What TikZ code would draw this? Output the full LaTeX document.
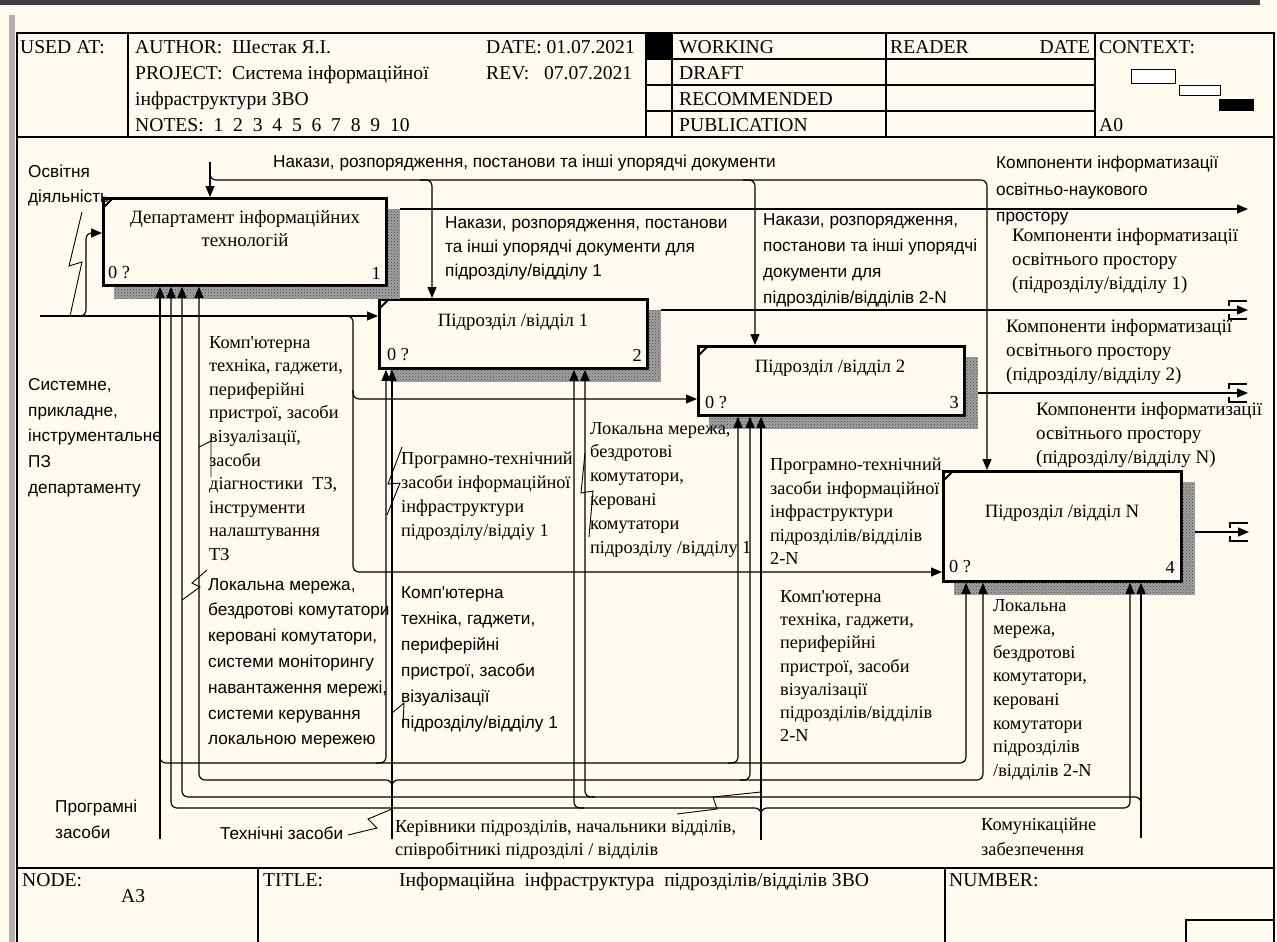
\documentclass[tikz,border=0pt]{standalone}
\usepackage{fontspec}
\setmainfont{Liberation Serif}
\newfontfamily\arialfont{Liberation Sans}
\usetikzlibrary{arrows.meta,patterns,calc}

\definecolor{paper}{HTML}{FFFAF0}
\definecolor{topbar}{HTML}{404040}

\newcommand\rmz[1]{\fontsize{18.3}{#1}\selectfont}
\newcommand\rmo[1]{\fontsize{19}{#1}\selectfont}
\newcommand\sfz[1]{\arialfont\fontsize{17.2}{#1}\selectfont}
\newcommand\hdz{\fontsize{19.6}{26}\selectfont}
\newcommand\ap{\textquotesingle}

\tikzset{
  conn/.style={line width=1.15pt, line join=round},
  arr/.style={conn, -{Triangle[length=11pt,width=9pt]}},
  zig/.style={line width=0.9pt},
  abox/.style={draw, line width=2.8pt, fill=paper, inner sep=0pt, anchor=north west},
  shade/.style={fill=black!36, postaction={pattern=crosshatch dots, pattern color=black!75}},
  lbl/.style={inner sep=0pt, align=left, anchor=north west},
  ttl/.style={inner sep=0pt, align=center, font=\fontsize{18.8}{23}\selectfont},
  num/.style={inner sep=0pt, font=\rmz{23}},
  hdr/.style={inner sep=0pt, anchor=base west, font=\hdz},
  frm/.style={line width=1.4pt},
  tunnel/.style={line width=1.1pt},
}
\newcommand\boxshade[1]{%
  \fill[shade] ($(#1.north east)+(0,12)$) -- ++(12,0) -- ($(#1.south east)+(12,12)$)
    -- ($(#1.south west)+(12,12)$) -- ($(#1.south west)+(12,0)$) -- (#1.south east) -- cycle;}

\begin{document}
\begin{tikzpicture}[x=1pt,y=-1pt]
\useasboundingbox (0,0) rectangle (1277,942);
\fill[paper] (0,0) rectangle (1277,942);
\fill[topbar] (0,0) rectangle (1260,5);
\fill[gray!60] (9,15) rectangle (15,942);

% ---------- frame ----------
\draw[frm] (17,942) -- (17,33) -- (1274,33) -- (1274,942);
\draw[frm] (17,137) -- (1274,137);
\draw[frm] (128,33) -- (128,137);
\draw[frm] (646,33) -- (646,137);
\draw[frm] (672,33) -- (672,137);
\draw[frm] (886,33) -- (886,137);
\draw[frm] (1095,33) -- (1095,137);
\foreach \yy in {59,85,111} \draw[frm] (646,\yy) -- (1095,\yy);
\fill[black] (646,33) rectangle (672,59);
\draw[line width=1pt, fill=white] (1131,70) rectangle (1175,83);
\draw[line width=1pt, fill=white] (1179,85) rectangle (1220,95);
\fill[black] (1219,99) rectangle (1254,111);

% footer
\draw[frm] (17,868) -- (1274,868);
\draw[frm] (258,868) -- (258,942);
\draw[frm] (945,868) -- (945,942);
\draw[frm] (1186,945) -- (1186,920) -- (1274,920);

% ---------- header text (baselines) ----------
\node[hdr] (hused) at (20,53.5) {USED AT:};
\node[hdr] (hauth) at (135,53.5) {AUTHOR:\ \ Шестак Я.І.};
\node[hdr] (hproj) at (135,79.5) {PROJECT:\ \ Система інформаційної};
\node[hdr] (hproj2) at (135,105.5) {інфраструктури ЗВО};
\node[hdr] (hnotes) at (135,131.5) {NOTES:\ \ 1\ \ 2\ \ 3\ \ 4\ \ 5\ \ 6\ \ 7\ \ 8\ \ 9\ \ 10};
\node[hdr] (hdate) at (486,53.5) {DATE:\ 01.07.2021};
\node[hdr] (hrev) at (486,79.5) {REV:\ \ \ 07.07.2021};
\node[hdr] (hwork) at (679,53.5) {WORKING};
\node[hdr] (hdraft) at (679,79.5) {DRAFT};
\node[hdr] (hrec) at (679,105.5) {RECOMMENDED};
\node[hdr] (hpub) at (679,131.5) {PUBLICATION};
\node[hdr] (hread) at (890,53.5) {READER};
\node[hdr, anchor=base east] (hrdate) at (1090,53.5) {DATE};
\node[hdr] (hctx) at (1099,53.5) {CONTEXT:};
\node[hdr] (ha0) at (1099,131.5) {A0};

% footer text
\node[hdr] (fnode) at (22,886.5) {NODE:};
\node[hdr] (fa3) at (121,902.5) {A3};
\node[hdr] (ftitle) at (263,886.5) {TITLE:};
\node[hdr] (ftext) at (399,886.5) {Інформаційна\ \ інфраструктура\ \ підрозділів/відділів ЗВО};
\node[hdr] (fnum) at (949,886.5) {NUMBER:};

% ---------- activity boxes ----------
\node[abox, minimum width=283, minimum height=87] (b1) at (102,197) {};
\node[abox, minimum width=268, minimum height=69] (b2) at (378,298) {};
\node[abox, minimum width=266, minimum height=69] (b3) at (697,345) {};
\node[abox, minimum width=238, minimum height=110] (b4) at (942,470) {};
\boxshade{b1}
\boxshade{b2}
\boxshade{b3}
\boxshade{b4}
\foreach \b in {b1,b2,b3,b4}
  \draw[line width=2pt] ($(\b.north west)+(1,11)$) -- ($(\b.north west)+(11,1)$);

\node[ttl] (tb1) at (245,229) {Департамент інформаційних\\технологій};
\node[ttl] (tb2) at (513,322) {Підрозділ /відділ 1};
\node[ttl] (tb3) at (830,368) {Підрозділ /відділ 2};
\node[ttl] (tb4) at (1062,513) {Підрозділ /відділ N};
\node[num, anchor=west] (n1a) at (108,273) {0 ?};
\node[num, anchor=east] (n1b) at (381,273) {1};
\node[num, anchor=west] (n2a) at (387,355) {0 ?};
\node[num, anchor=east] (n2b) at (642,355) {2};
\node[num, anchor=west] (n3a) at (705,403) {0 ?};
\node[num, anchor=east] (n3b) at (959,403) {3};
\node[num, anchor=west] (n4a) at (949,567) {0 ?};
\node[num, anchor=east] (n4b) at (1175,567) {4};

% ---------- free ends ----------
\coordinate (c0) at (210,162);
\coordinate (i0) at (40,316);
\coordinate (o1) at (1248,209);
\coordinate (o2) at (1248,310);
\coordinate (o3) at (1248,393);
\coordinate (o4) at (1249,532);
\coordinate (m1) at (160,839);
\coordinate (m2) at (392,839);
\coordinate (m3) at (761,840);
\coordinate (m4) at (1141,838);

% ---------- controls ----------
\draw[arr] (c0) -- (c0 |- b1.north);
\draw[arr, rounded corners=6] (210,172) |- (987,180) -- (987,0 |- b4.north);
\draw[arr, rounded corners=6] (420,180) -| (432,0 |- b2.north);
\draw[arr, rounded corners=6] (743,180) -| (755,0 |- b3.north);

% ---------- inputs ----------
\draw[arr] (i0) -- (b2.west |- i0);
\draw[arr, rounded corners=6] (76,316) -| (86,233) -- (b1.west |- 0,233);
\draw[arr, rounded corners=6] (343,316) -| (353,399) -- (b3.west |- 0,399);
\draw[arr, rounded corners=6] (353,390) |- (b4.west |- 0,572);

% ---------- outputs ----------
\draw[arr] ($(b1.north east)+(12,12)$) -- (o1);
\draw[arr] ($(b2.north east)+(12,12)$) -- (o2);
\draw[arr] ($(b3.east |- o3)+(12,0)$) -- (o3);
\draw[arr] ($(b4.east |- o4)+(12,0)$) -- (o4);
\foreach \o in {o2,o3,o4}{
  \draw[tunnel] ($(\o)+(-1,-9)$) -- ($(\o)+(-19,-9)$) -- ($(\o)+(-19,-4)$);
  \draw[tunnel] ($(\o)+(-1,9)$) -- ($(\o)+(-19,9)$) -- ($(\o)+(-19,4)$);
}

% ---------- mechanisms ----------
% software
\draw[arr] (m1) -- (m1 |- b1.south);
\draw[arr, rounded corners=6] (160,755) |- (966,763) -- (966,0 |- b4.south);
\draw[arr, rounded corners=6] (376,763) -| (386,0 |- b2.south);
\draw[arr, rounded corners=6] (728,763) -| (738,0 |- b3.south);
% hardware
\draw[arr] (m2) -- (m2 |- b2.south);
\draw[arr, rounded corners=6] (392,790) |- (199,780) -- (199,0 |- b1.south);
\draw[arr, rounded corners=6] (392,790) |- (983,780) -- (983,0 |- b4.south);
\draw[arr, rounded corners=6] (740,780) -| (750,0 |- b3.south);
% staff
\draw[arr] (m3) -- (m3 |- b3.south);
\draw[arr, rounded corners=6] (761,816) |- (171,808) -- (171,0 |- b1.south);
\draw[arr, rounded corners=6] (761,816) |- (1130,808) -- (1130,0 |- b4.south);
\draw[arr, rounded corners=6] (584,808) -| (574,0 |- b2.south);
% communication
\draw[arr] (m4) -- (m4 |- b4.south);
\draw[arr, rounded corners=6] (1141,805) |- (182,797) -- (182,0 |- b1.south);
\draw[arr, rounded corners=6] (595,797) -| (585,0 |- b2.south);

% ---------- label squiggles ----------
\draw[zig] (82,212) -- (69,266) -- (82,262) -- (70,316);
\draw[zig] (199,447) -- (211,441) -- (211,477);
\draw[zig] (207,570) -- (192,583) -- (200,587) -- (182,600);
\draw[zig] (402,447) -- (388,484) -- (400,483) -- (387,515);
\draw[zig] (392,713) -- (404,703) -- (403,725);
\draw[zig] (585,453) -- (581,493) -- (593,491) -- (589,537);
\draw[zig] (348,835) -- (377,828) -- (368,819) -- (392,809);
\draw[zig] (677,814) -- (717,809) -- (713,797) -- (761,792);

% ---------- arrow labels ----------
\node[lbl, font=\sfz{26}] (tctl1) at (273,155) {Накази, розпорядження, постанови та інші упорядчі документи};
\node[lbl, font=\sfz{24}] (tctl2) at (445,216) {Накази, розпорядження, постанови\\та інші упорядчі документи для\\підрозділу/відділу 1};
\node[lbl, font=\sfz{26}] (tctl3) at (763,213) {Накази, розпорядження,\\постанови та інші упорядчі\\документи для\\підрозділів/відділів 2-N};
\node[lbl, font=\sfz{26.5}] (tout1) at (996,156) {Компоненти інформатизації\\освітньо-наукового\\простору};
\node[lbl, font=\rmo{24}] (tout2) at (1012,228) {Компоненти інформатизації\\освітнього простору\\(підрозділу/відділу 1)};
\node[lbl, font=\rmo{24}] (tout3) at (1006,319) {Компоненти інформатизації\\освітнього простору\\(підрозділу/відділу 2)};
\node[lbl, font=\rmo{24}] (tout4) at (1036,402) {Компоненти інформатизації\\освітнього простору\\(підрозділу/відділу N)};
\node[lbl, font=\sfz{25}] (tin1) at (28,165) {Освітня\\діяльність};
\node[lbl, font=\sfz{25.8}] (tin2) at (28,378) {Системне,\\прикладне,\\інструментальне\\ПЗ\\департаменту};
\node[lbl, font=\rmz{23.6}] (tm1a) at (209,336) {Комп\ap ютерна\\техніка, гаджети,\\периферійні\\пристрої, засоби\\візуалізації,\\засоби\\діагностики\ \ ТЗ,\\інструменти\\налаштування\\ТЗ};
\node[lbl, font=\sfz{25.8}] (tm1b) at (208,578) {Локальна мережа,\\бездротові комутатори,\\керовані комутатори,\\системи моніторингу\\навантаження мережі,\\системи керування\\локальною мережею};
\node[lbl, font=\rmz{24}] (tm2a) at (401,452) {Програмно-технічний\\засоби інформаційної\\інфраструктури\\підрозділу/віддіу 1};
\node[lbl, font=\rmz{23.8}] (tm2c) at (590,422) {Локальна мережа,\\бездротові\\комутатори,\\керовані\\комутатори\\підрозділу /відділу 1};
\node[lbl, font=\sfz{26}] (tm2b) at (401,586) {Комп\ap ютерна\\техніка, гаджети,\\периферійні\\пристрої, засоби\\візуалізації\\підрозділу/відділу 1};
\node[lbl, font=\rmz{23.5}] (tm4a) at (770,458) {Програмно-технічний\\засоби інформаційної\\інфраструктури\\підрозділів/відділів\\2-N};
\node[lbl, font=\rmz{23.3}] (tm4b) at (780,590) {Комп\ap ютерна\\техніка, гаджети,\\периферійні\\пристрої, засоби\\візуалізації\\підрозділів/відділів\\2-N};
\node[lbl, font=\rmz{23.6}] (tm4c) at (993,599) {Локальна\\мережа,\\бездротові\\комутатори,\\керовані\\комутатори\\підрозділів\\/відділів 2-N};
\node[lbl, font=\rmz{23.5}] (tsrc3) at (395,820) {Керівники підрозділів, начальники відділів,\\співробітникі підрозділі / відділів};
\node[lbl, font=\rmz{25}] (tsrc4) at (981,818) {Комунікаційне\\забезпечення};
\node[lbl, font=\sfz{26}] (tsrc2) at (220,827) {Технічні засоби};
\node[lbl, font=\sfz{26}] (tsrc1) at (55,800) {Програмні\\засоби};
\end{tikzpicture}
\end{document}
